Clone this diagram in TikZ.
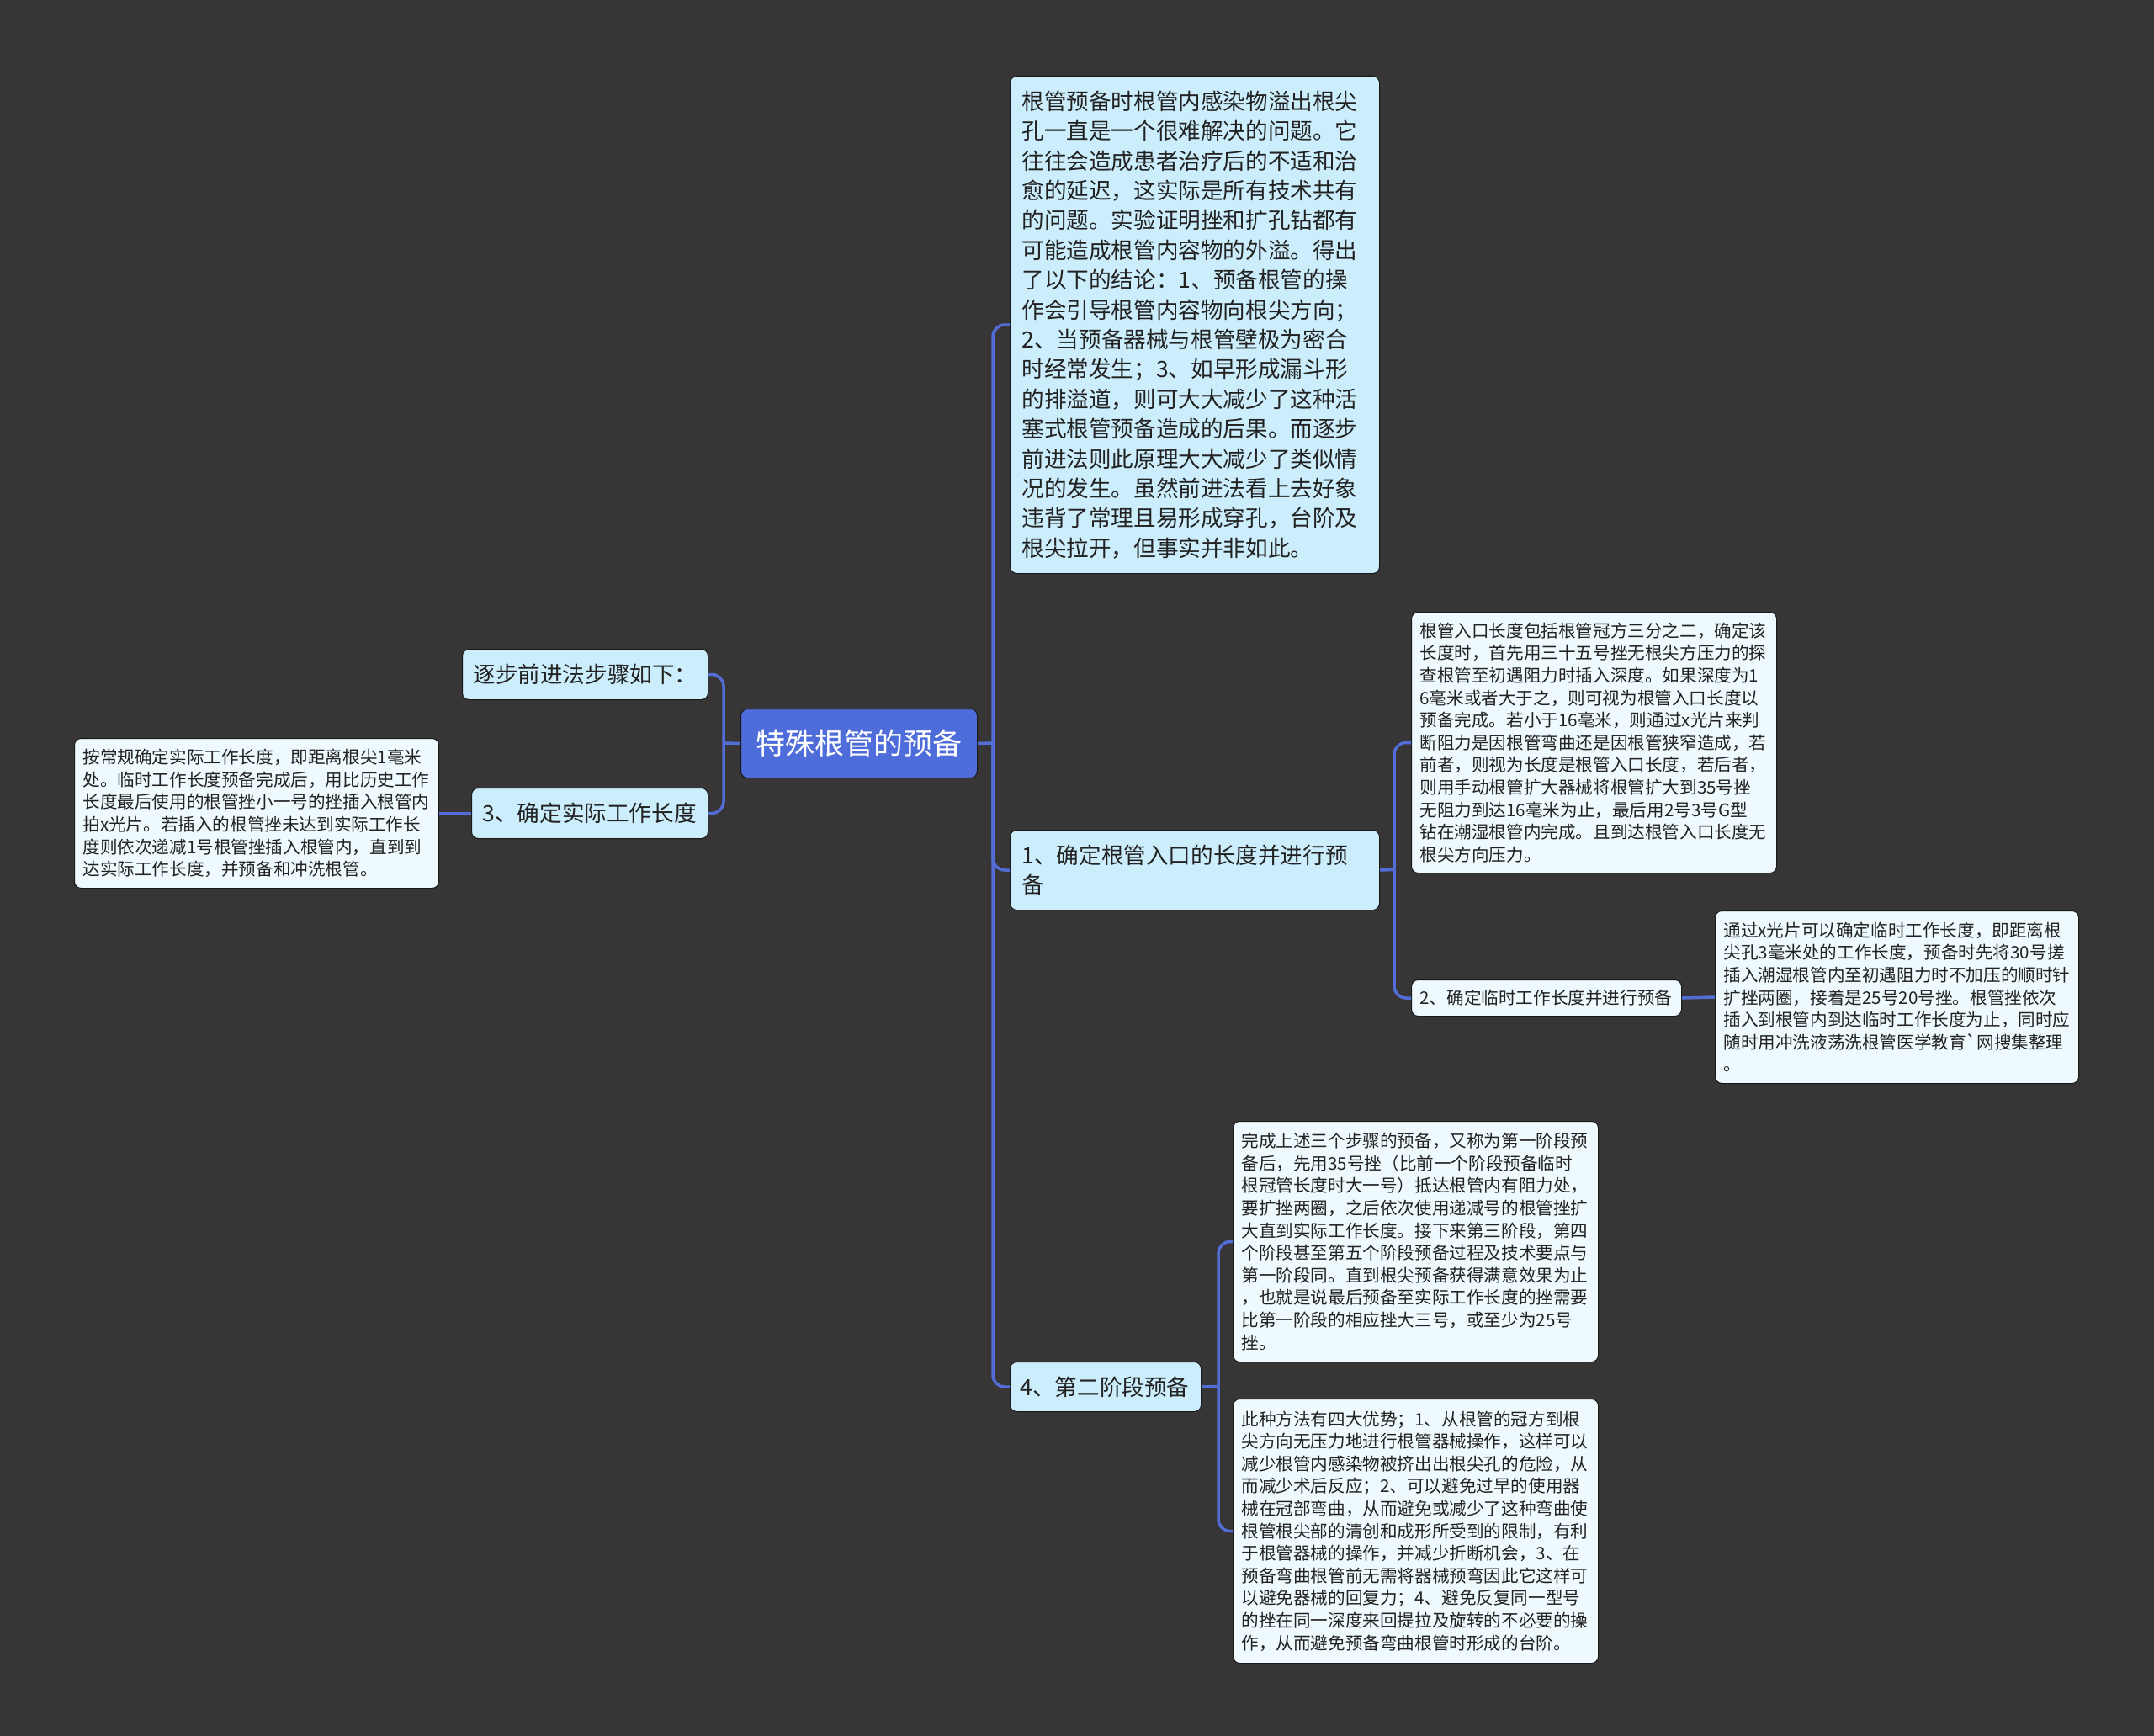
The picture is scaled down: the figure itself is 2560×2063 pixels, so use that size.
\documentclass[tikz,border=0pt]{standalone}
\usepackage{fontspec}
\newfontfamily\cjk{Noto Sans CJK SC}
\definecolor{bg}{RGB}{55,53,54}
\definecolor{rootblue}{RGB}{78,108,218}
\definecolor{lineblue}{RGB}{82,110,214}
\definecolor{lightblue}{RGB}{204,238,252}
\definecolor{paleblue}{RGB}{238,250,253}
\definecolor{txt}{RGB}{34,34,34}
\definecolor{edge}{RGB}{25,25,25}
\begin{document}
\begin{tikzpicture}[x=1pt,y=-1pt,
  box/.style={anchor=north west, rounded corners=8pt, inner ysep=0pt, align=left, text=txt, draw=edge, line width=1pt},
  big/.style={box, fill=lightblue, font=\cjk\fontsize{26.6}{35.4}\selectfont},
  small/.style={box, fill=paleblue, font=\cjk\fontsize{20.6}{26.6}\selectfont},
  rootbox/.style={anchor=north west, rounded corners=8pt, fill=rootblue, text=white, draw=edge, line width=1pt, font=\cjk\fontsize{35}{42}\selectfont},
  conn/.style={draw=lineblue, line width=3.5pt, rounded corners=14pt}]
\useasboundingbox[fill=bg] (0,0) rectangle (2560,2063);

% root
\node[rootbox, minimum width=281pt, minimum height=82pt] (root) at (880,842) {特殊根管的预备};

% right branch
\node[big, minimum width=439pt, minimum height=591pt, text width=411pt, inner xsep=14pt] (A) at (1200,90) {根管预备时根管内感染物溢出根尖\\孔一直是一个很难解决的问题。它\\往往会造成患者治疗后的不适和治\\愈的延迟，这实际是所有技术共有\\的问题。实验证明挫和扩孔钻都有\\可能造成根管内容物的外溢。得出\\了以下的结论：1、预备根管的操\\作会引导根管内容物向根尖方向；\\2、当预备器械与根管壁极为密合\\时经常发生；3、如早形成漏斗形\\的排溢道，则可大大减少了这种活\\塞式根管预备造成的后果。而逐步\\前进法则此原理大大减少了类似情\\况的发生。虽然前进法看上去好象\\违背了常理且易形成穿孔，台阶及\\根尖拉开，但事实并非如此。};

\node[big, minimum width=439pt, minimum height=95pt, text width=411pt, inner xsep=14pt] (B) at (1200,986) {1、确定根管入口的长度并进行预\\备};

\node[big, minimum width=227pt, minimum height=59pt, text width=203pt, inner xsep=12pt] (C) at (1200,1618) {4、第二阶段预备};

\node[small, minimum width=434pt, minimum height=310pt, text width=414pt, inner xsep=10pt] (B1) at (1677,727) {根管入口长度包括根管冠方三分之二，确定该\\长度时，首先用三十五号挫无根尖方压力的探\\查根管至初遇阻力时插入深度。如果深度为1\\6毫米或者大于之，则可视为根管入口长度以\\预备完成。若小于16毫米，则通过x光片来判\\断阻力是因根管弯曲还是因根管狭窄造成，若\\前者，则视为长度是根管入口长度，若后者，\\则用手动根管扩大器械将根管扩大到35号挫\\无阻力到达16毫米为止，最后用2号3号G型\\钻在潮湿根管内完成。且到达根管入口长度无\\根尖方向压力。};

\node[small, minimum width=321pt, minimum height=43pt, text width=301pt, inner xsep=10pt] (B2) at (1677,1164) {2、确定临时工作长度并进行预备};

\node[small, minimum width=432pt, minimum height=205pt, text width=412pt, inner xsep=10pt] (B3) at (2038,1082) {通过x光片可以确定临时工作长度，即距离根\\尖孔3毫米处的工作长度，预备时先将30号搓\\插入潮湿根管内至初遇阻力时不加压的顺时针\\扩挫两圈，接着是25号20号挫。根管挫依次\\插入到根管内到达临时工作长度为止，同时应\\随时用冲洗液荡洗根管医学教育`网搜集整理\\。};

\node[small, minimum width=434pt, minimum height=286pt, text width=414pt, inner xsep=10pt] (C1) at (1465,1332) {完成上述三个步骤的预备，又称为第一阶段预\\备后，先用35号挫（比前一个阶段预备临时\\根冠管长度时大一号）抵达根管内有阻力处，\\要扩挫两圈，之后依次使用递减号的根管挫扩\\大直到实际工作长度。接下来第三阶段，第四\\个阶段甚至第五个阶段预备过程及技术要点与\\第一阶段同。直到根尖预备获得满意效果为止\\，也就是说最后预备至实际工作长度的挫需要\\比第一阶段的相应挫大三号，或至少为25号\\挫。};

\node[small, minimum width=434pt, minimum height=314pt, text width=414pt, inner xsep=10pt] (C2) at (1465,1662) {此种方法有四大优势；1、从根管的冠方到根\\尖方向无压力地进行根管器械操作，这样可以\\减少根管内感染物被挤出出根尖孔的危险，从\\而减少术后反应；2、可以避免过早的使用器\\械在冠部弯曲，从而避免或减少了这种弯曲使\\根管根尖部的清创和成形所受到的限制，有利\\于根管器械的操作，并减少折断机会，3、在\\预备弯曲根管前无需将器械预弯因此它这样可\\以避免器械的回复力；4、避免反复同一型号\\的挫在同一深度来回提拉及旋转的不必要的操\\作，从而避免预备弯曲根管时形成的台阶。};

% left branch
\node[big, minimum width=292pt, minimum height=60pt, text width=266pt, inner xsep=13pt] (L1) at (549,771) {逐步前进法步骤如下：};
\node[big, minimum width=281pt, minimum height=60pt, text width=255pt, inner xsep=13pt] (L2) at (560,936) {3、确定实际工作长度};
\node[small, minimum width=433pt, minimum height=178pt, text width=413pt, inner xsep=10pt] (L3) at (88,877) {按常规确定实际工作长度，即距离根尖1毫米\\处。临时工作长度预备完成后，用比历史工作\\长度最后使用的根管挫小一号的挫插入根管内\\拍x光片。若插入的根管挫未达到实际工作长\\度则依次递减1号根管挫插入根管内，直到到\\达实际工作长度，并预备和冲洗根管。};

% junctions
\coordinate (rj) at (1180,883);
\coordinate (lj) at (860,883);
\coordinate (bj) at (1657,1033.5);
\coordinate (cj) at (1448,1647.5);

\begin{scope}[on background layer/.style={}]
\draw[conn] (root.east) -- (rj);
\draw[conn] (rj) |- (A.west);
\draw[conn] (rj) |- (B.west);
\draw[conn] (rj) |- (C.west);
\draw[conn] (root.west) -- (lj);
\draw[conn] (lj) |- (L1.east);
\draw[conn] (lj) |- (L2.east);
\draw[conn] (L2.west) -- (L3.east);
\draw[conn] (B.east) -- (bj);
\draw[conn] (bj) |- (B1.west);
\draw[conn] (bj) |- (B2.west);
\draw[conn] (B2.east) -- (B3.west);
\draw[conn] (C.east) -- (cj);
\draw[conn] (cj) |- (C1.west);
\draw[conn] (cj) |- (C2.west);
\end{scope}
\end{tikzpicture}
\end{document}
